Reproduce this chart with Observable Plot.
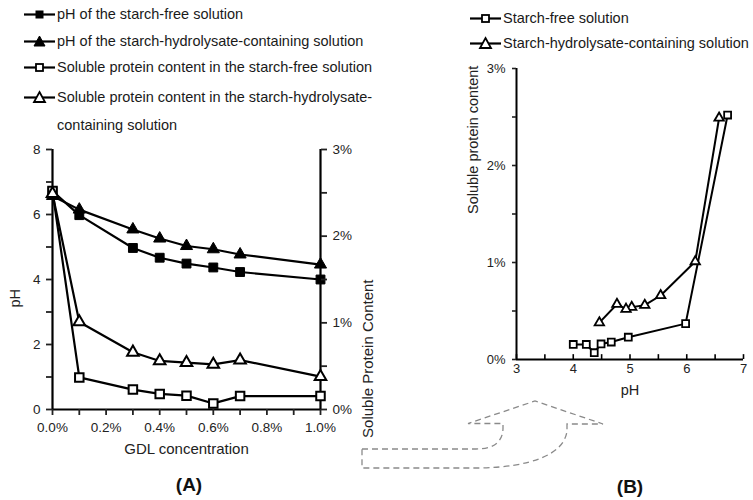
<!DOCTYPE html>
<html><head><meta charset="utf-8">
<script src="https://cdn.jsdelivr.net/npm/d3@7"></script>
<script src="https://cdn.jsdelivr.net/npm/@observablehq/plot@0.6"></script>
<style>
body{margin:0;background:#fff;font-family:"Liberation Sans",Arial,sans-serif;}
#root{position:relative;width:753px;height:500px;overflow:hidden;background:#fff;}
#root svg{overflow:visible;max-width:none;}
.pl{position:absolute;}
.leg{position:absolute;font-size:14.5px;color:#1a1a1a;line-height:28px;white-space:nowrap;}
.leg svg{position:absolute;left:0;top:0;}
.tag{position:absolute;font-weight:bold;font-size:19px;color:#111;transform:translate(-50%,-50%);}
</style></head>
<body><div id="root"></div>
<script>
// ---- data ----
const gdlConc = [0, 0.1, 0.3, 0.4, 0.5, 0.6, 0.7, 1.0];
const phStarchFree = [6.72, 5.98, 4.97, 4.67, 4.49, 4.37, 4.23, 4.00];
const phHydrolysate = [6.57, 6.15, 5.54, 5.26, 5.03, 4.93, 4.77, 4.46];
const proteinStarchFree = [2.52, 0.37, 0.23, 0.18, 0.16, 0.07, 0.155, 0.155];
const proteinHydrolysate = [2.49, 1.01, 0.66, 0.56, 0.54, 0.52, 0.57, 0.38];

const gdlTicks = [0, 0.1, 0.2, 0.3, 0.4, 0.5, 0.6, 0.7, 0.8, 0.9, 1.0];
const gdlTickLabels = ["0.0%", "", "0.2%", "", "0.4%", "", "0.6%", "", "0.8%", "", "1.0%"];
const phLeftTicks = [0, 1, 2, 3, 4, 5, 6, 7, 8];
const phLeftLabels = ["0", "", "2", "", "4", "", "6", "", "8"];
const proteinTicks = [0, 0.5, 1, 1.5, 2, 2.5, 3];
const proteinTickLabels = ["0%", "", "1%", "", "2%", "", "3%"];
const phBTicks = [3, 3.5, 4, 4.5, 5, 5.5, 6, 6.5, 7];
const phBTickLabels = ["3", "", "4", "", "5", "", "6", "", "7"];

const legendA = [
  "pH of the starch-free solution",
  "pH of the starch-hydrolysate-containing solution",
  "Soluble protein content in the starch-free solution",
  "Soluble protein content in the starch-hydrolysate-<br>containing solution"
];
const legendB = ["Starch-free solution", "Starch-hydrolysate-containing solution"];

// ---- table ----
const table = gdlConc.map((g, i) => ({
  gdl: g, phSF: phStarchFree[i], phH: phHydrolysate[i],
  protSF: proteinStarchFree[i], protH: proteinHydrolysate[i]
}));
const lab = (ticks, labels) => { const m = new Map(ticks.map((t, i) => [t, labels[i]])); return d => m.get(d) ?? ""; };

const root = document.getElementById("root");
const FONT = "Liberation Sans, Arial, sans-serif";
function place(el, left, top) { el.classList.add("pl"); el.style.left = left + "px"; el.style.top = top + "px"; root.appendChild(el); }

// ---- Panel A : pH (left axis) ----
const dimA = {width: 400, height: 340, marginLeft: 52, marginRight: 80, marginTop: 19, marginBottom: 61};
const A1 = Plot.plot({
  ...dimA,
  style: {fontFamily: FONT, fontSize: "13.5px", color: "#222", background: "transparent"},
  x: {domain: [0, 1.0], label: null},
  y: {domain: [0, 8], label: null},
  marks: [
    Plot.ruleX([0], {stroke: "#000", strokeWidth: 2.2}),
    Plot.ruleY([0], {stroke: "#000", strokeWidth: 2.2}),
    Plot.axisY(phLeftTicks, {tickSize: 6, tickPadding: 6, strokeWidth: 1.8, tickFormat: lab(phLeftTicks, phLeftLabels), label: null}),
    Plot.axisX(gdlTicks, {tickSize: 6, tickPadding: 7, strokeWidth: 1.8, tickFormat: lab(gdlTicks, gdlTickLabels), label: null}),
    Plot.text(["pH"], {frameAnchor: "left", dx: -37, dy: 28, rotate: -90, fontSize: 14.5, fill: "#222"}),
    Plot.text(["GDL concentration"], {frameAnchor: "bottom", dy: 44, fontSize: 15, fill: "#222"}),
    Plot.line(table, {x: "gdl", y: "phSF", stroke: "#000", strokeWidth: 2.2}),
    Plot.line(table, {x: "gdl", y: "phH", stroke: "#000", strokeWidth: 2.2}),
    Plot.dot(table, {x: "gdl", y: "phSF", symbol: "square", r: 5, fill: "#000", stroke: "#000", strokeWidth: 1}),
    Plot.dot(table, {x: "gdl", y: "phH", symbol: "triangle", r: 4.5, fill: "#000", stroke: "#000", strokeWidth: 1})
  ]
});
place(A1, 0, 130);

// ---- Panel A : protein (right axis) ----
const A2 = Plot.plot({
  ...dimA,
  style: {fontFamily: FONT, fontSize: "13.5px", color: "#222", background: "transparent"},
  x: {domain: [0, 1.0], label: null, axis: null},
  y: {domain: [0, 3], label: null},
  marks: [
    Plot.ruleX([1.0], {stroke: "#000", strokeWidth: 2.2}),
    Plot.axisY(proteinTicks, {anchor: "right", tickSize: 6, tickPadding: 6, strokeWidth: 1.8, tickFormat: lab(proteinTicks, proteinTickLabels), label: null}),
    Plot.text(["Soluble Protein Content"], {frameAnchor: "right", dx: 48, rotate: -90, fontSize: 15, fill: "#222"}),
    Plot.line(table, {x: "gdl", y: "protSF", stroke: "#000", strokeWidth: 2.2}),
    Plot.line(table, {x: "gdl", y: "protH", stroke: "#000", strokeWidth: 2.2}),
    Plot.dot(table, {x: "gdl", y: "protSF", symbol: "square", r: 4.8, fill: "#fff", stroke: "#000", strokeWidth: 2}),
    Plot.dot(table, {x: "gdl", y: "protH", symbol: "triangle", r: 4.3, fill: "#fff", stroke: "#000", strokeWidth: 2})
  ]
});
place(A2, 0, 130);

// ---- Panel B ----
const B = Plot.plot({
  width: 323, height: 360, marginLeft: 86, marginRight: 10, marginTop: 18, marginBottom: 51,
  style: {fontFamily: FONT, fontSize: "13px", color: "#222", background: "transparent"},
  x: {domain: [3, 7], label: null},
  y: {domain: [0, 3], label: null},
  marks: [
    Plot.ruleX([3], {stroke: "#000", strokeWidth: 2}),
    Plot.ruleY([0], {stroke: "#000", strokeWidth: 2}),
    Plot.ruleX(phBTicks, {y1: 0, y2: 0.05, stroke: "#000", strokeWidth: 1.6}),
    Plot.axisX(phBTicks, {tickSize: 0, tickPadding: 4, tickFormat: lab(phBTicks, phBTickLabels), label: null}),
    Plot.axisY(proteinTicks, {tickSize: 4, tickPadding: 7, strokeWidth: 1.6, tickFormat: lab(proteinTicks, proteinTickLabels), label: null}),
    Plot.text(["Soluble protein content"], {frameAnchor: "left", dx: -43, rotate: -90, fontSize: 14.5, fill: "#222"}),
    Plot.text(["pH"], {frameAnchor: "bottom", dy: 35, fontSize: 14.5, fill: "#222"}),
    Plot.line(table, {x: "phSF", y: "protSF", stroke: "#000", strokeWidth: 2}),
    Plot.line(table, {x: "phH", y: "protH", stroke: "#000", strokeWidth: 2}),
    Plot.dot(table, {x: "phSF", y: "protSF", symbol: "square", r: 3.9, fill: "#fff", stroke: "#000", strokeWidth: 1.8}),
    Plot.dot(table, {x: "phH", y: "protH", symbol: "triangle", r: 3.5, fill: "#fff", stroke: "#000", strokeWidth: 1.8})
  ]
});
place(B, 430, 50);

// ---- legends (swatches) ----
function swatch(kind, filled) {
  const fill = filled ? "#000" : "#fff";
  let m = "";
  if (kind === "square") m = filled ? `<rect x="11.5" y="3.5" width="8" height="8" fill="#000"/>` : `<rect x="12" y="4" width="7" height="7" fill="#fff" stroke="#000" stroke-width="1.8"/>`;
  else m = `<path d="M15.5 2 L21 12 L10 12 Z" fill="${fill}" stroke="#000" stroke-width="${filled ? 1 : 1.8}"/>`;
  return `<svg width="32" height="15" viewBox="0 0 32 15"><line x1="0" y1="7.5" x2="31" y2="7.5" stroke="#000" stroke-width="2.2"/>${m}</svg>`;
}
const kindsA = [["square", true], ["triangle", true], ["square", false], ["triangle", false]];
const rowsA = [14, 41, 67, 97];
legendA.forEach((t, i) => {
  const d = document.createElement("div");
  d.className = "leg";
  d.style.left = "24px"; d.style.top = (rowsA[i] - 14) + "px";
  d.innerHTML = swatch(...kindsA[i]).replace("<svg", '<svg style="top:6.5px"') + `<div style="margin-left:33px">${t}</div>`;
  root.appendChild(d);
});
const kindsB = [["square", false], ["triangle", false]];
const rowsB = [18, 43];
legendB.forEach((t, i) => {
  const d = document.createElement("div");
  d.className = "leg";
  d.style.left = "470px"; d.style.top = (rowsB[i] - 14) + "px";
  d.innerHTML = swatch(...kindsB[i]).replace("<svg", '<svg style="top:6.5px"') + `<div style="margin-left:33px">${t}</div>`;
  root.appendChild(d);
});

// ---- panel tags ----
[["(A)", 189, 485], ["(B)", 630, 487]].forEach(([t, x, y]) => {
  const d = document.createElement("div"); d.className = "tag"; d.textContent = t;
  d.style.left = x + "px"; d.style.top = y + "px"; root.appendChild(d);
});

// ---- dashed connector arrow (decoration) ----
const arrow = document.createElementNS("http://www.w3.org/2000/svg", "svg");
arrow.setAttribute("width", 753); arrow.setAttribute("height", 500);
arrow.style.position = "absolute"; arrow.style.left = "0"; arrow.style.top = "0"; arrow.style.pointerEvents = "none";
arrow.innerHTML = `<path d="M362 449 L476 449 C496 449 503 440 503 428 L503 423.5 L468 423.5 L535 401 L603 424 L567 424 L567 431 C564 455 530 467 480 468 L362 468 Z" fill="none" stroke="#8a8a8a" stroke-width="1.3" stroke-dasharray="6 4"/>`;
root.appendChild(arrow);
</script></body></html>
